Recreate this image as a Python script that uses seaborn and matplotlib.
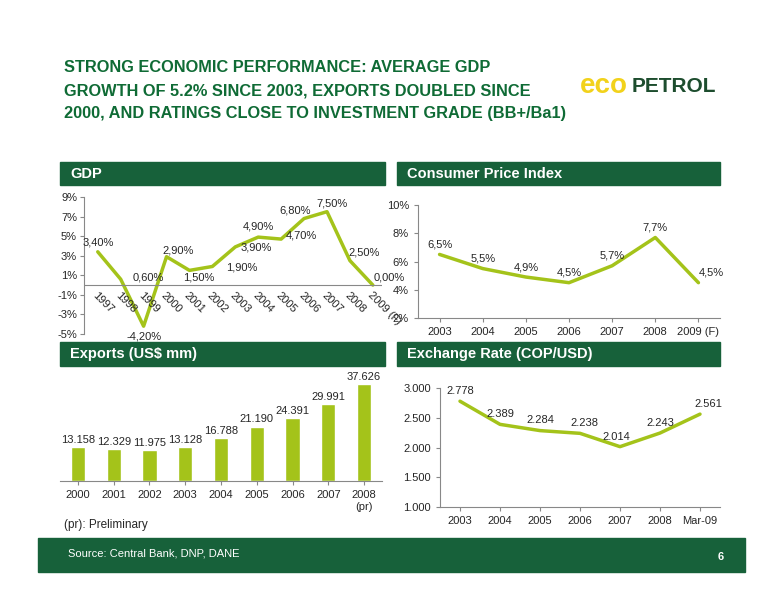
import matplotlib
matplotlib.use('Agg')
import matplotlib.pyplot as plt
import seaborn as sns
import pandas as pd

sns.set_style('white')
plt.rcParams['font.family'] = ['Liberation Sans', 'DejaVu Sans']

GREEN = '#a4c31a'
DARK = '#17613a'
TITLE = '#0f6b35'

# data
gdp_years = ['1997', '1998', '1999', '2000', '2001', '2002', '2003', '2004',
             '2005', '2006', '2007', '2008', '2009 (F)']
gdp_vals = [3.4, 0.6, -4.2, 2.9, 1.5, 1.9, 3.9, 4.9, 4.7, 6.8, 7.5, 2.5, 0.0]

cpi_years = ['2003', '2004', '2005', '2006', '2007', '2008', '2009 (F)']
cpi_vals = [6.5, 5.5, 4.9, 4.5, 5.7, 7.7, 4.5]

exp_years = ['2000', '2001', '2002', '2003', '2004', '2005', '2006', '2007', '2008\n(pr)']
exp_vals = [13158, 12329, 11975, 13128, 16788, 21190, 24391, 29991, 37626]

fx_labels = ['2003', '2004', '2005', '2006', '2007', '2008', 'Mar-09']
fx_vals = [2778, 2389, 2284, 2238, 2014, 2243, 2561]

W, H = 776, 600
fig = plt.figure(figsize=(W / 100, H / 100), dpi=100)


def px_ax(x0, y0, x1, y1):
    return fig.add_axes([x0 / W, 1 - y1 / H, (x1 - x0) / W, (y1 - y0) / H])


def bar(x0, y0, x1, y1, text=None, fs=10.5):
    fig.patches.append(plt.Rectangle((x0 / W, 1 - y1 / H), (x1 - x0) / W, (y1 - y0) / H,
                                     transform=fig.transFigure, color=DARK))
    if text:
        fig.text((x0 + 10) / W, 1 - (y0 + y1) / 2 / H, text, color='white',
                 fontsize=fs, fontweight='bold', va='center')


def pct(v, d=2):
    return f'{v:.{d}f}%'.replace('.', ',')


def thou(v):
    return f'{v:,}'.replace(',', '.')


# title
for i, line in enumerate(['STRONG ECONOMIC PERFORMANCE: AVERAGE GDP',
                          'GROWTH OF 5.2% SINCE 2003, EXPORTS DOUBLED SINCE',
                          '2000, AND RATINGS CLOSE TO INVESTMENT GRADE (BB+/Ba1)']):
    fig.text(64 / W, 1 - (68 + 23 * i) / H, line, color=TITLE, fontsize=11.8,
             fontweight='bold', va='center')
fig.text(580 / W, 1 - 86 / H, 'eco', color='#f2d21b', fontsize=20, fontweight='bold', va='center')
fig.text(632 / W, 1 - 87 / H, 'PETROL', color='#1d4d2e', fontsize=15, fontweight='bold', va='center')

bar(60, 162, 385, 185, 'GDP')
bar(397, 162, 720, 185, 'Consumer Price Index')
bar(60, 342, 385, 366, 'Exports (US$ mm)')
bar(397, 342, 720, 366, 'Exchange Rate (COP/USD)')
bar(38, 538, 745, 572)
fig.text(68 / W, 1 - 553 / H, 'Source: Central Bank, DNP, DANE', color='white', fontsize=8, va='center')
fig.text(718 / W, 1 - 557 / H, '6', color='white', fontsize=8, fontweight='bold', va='center')

# GDP
ax = px_ax(84, 197, 382, 334)
df = pd.DataFrame({'x': range(len(gdp_vals)), 'v': gdp_vals})
sns.lineplot(data=df, x='x', y='v', ax=ax, color=GREEN, lw=2.5)
ax.set_ylim(-5, 9)
ax.set_yticks(range(-5, 10, 2))
ax.set_yticklabels([f'{t}%' for t in range(-5, 10, 2)], fontsize=8)
ax.set_xlim(-0.6, 12.4)
ax.axhline(0, color='#888', lw=0.8)
ax.set_xticks([])
ax.set_xlabel(''); ax.set_ylabel('')
for i, y in enumerate(gdp_years):
    ax.text(i, -0.5, y, rotation=-45, ha='left', va='top', fontsize=8, rotation_mode='anchor')
offs = [(0, 0.9), (1.2, 0.2), (0, -1.1), (0.5, 0.6), (0.4, -0.7), (1.3, -0.1), (0.9, -0.1),
        (0, 1.1), (0.9, 0.4), (-0.4, 0.8), (0.2, 0.8), (0.6, 0.8), (0.7, 0.8)]
for i, (v, o) in enumerate(zip(gdp_vals, offs)):
    ax.text(i + o[0], v + o[1], pct(v), ha='center', va='center', fontsize=8)
sns.despine(ax=ax, bottom=True)
ax.spines['left'].set_color('#888')
ax.tick_params(axis='y', length=3, color='#888', pad=2, left=True)

# CPI
ax = px_ax(418, 205, 720, 318)
df = pd.DataFrame({'x': range(len(cpi_vals)), 'v': cpi_vals})
sns.lineplot(data=df, x='x', y='v', ax=ax, color=GREEN, lw=2.5)
ax.set_ylim(2, 10)
ax.set_yticks([2, 4, 6, 8, 10])
ax.set_yticklabels(['2%', '4%', '6%', '8%', '10%'], fontsize=8)
ax.set_xlim(-0.5, 6.5)
ax.set_xticks(range(len(cpi_years)))
ax.set_xticklabels(cpi_years, fontsize=8)
ax.set_xlabel(''); ax.set_ylabel('')
for i, v in enumerate(cpi_vals):
    ax.text(i + (0.3 if i == 6 else 0), v + 0.7, pct(v, 1), ha='center', va='center', fontsize=8)
for s in ['top', 'right']:
    ax.spines[s].set_visible(False)
ax.spines['left'].set_color('#888'); ax.spines['bottom'].set_color('#888')
ax.tick_params(length=3, color='#888', left=True, bottom=True)

# Exports
ax = px_ax(60, 368, 382, 481)
df = pd.DataFrame({'x': exp_years, 'v': exp_vals})
sns.barplot(data=df, x='x', y='v', ax=ax, color=GREEN, width=0.4, saturation=1)
ax.set_ylim(0, 44000)
ax.set_yticks([])
ax.set_xlabel(''); ax.set_ylabel('')
ax.tick_params(axis='x', labelsize=8, length=3, color='#888', bottom=True)
for i, v in enumerate(exp_vals):
    ax.text(i, v + 900, thou(v), ha='center', va='bottom', fontsize=8)
for s in ['top', 'right', 'left']:
    ax.spines[s].set_visible(False)
ax.spines['bottom'].set_color('#888')
fig.text(64 / W, 1 - 525 / H, '(pr): Preliminary', fontsize=8.5, va='center')

# Exchange rate
ax = px_ax(440, 388, 720, 507)
df = pd.DataFrame({'x': range(len(fx_vals)), 'v': fx_vals})
sns.lineplot(data=df, x='x', y='v', ax=ax, color=GREEN, lw=2.5)
ax.set_ylim(1000, 3000)
ax.set_yticks([1000, 1500, 2000, 2500, 3000])
ax.set_yticklabels([thou(t) for t in [1000, 1500, 2000, 2500, 3000]], fontsize=8)
ax.set_xlim(-0.5, 6.5)
ax.set_xticks(range(len(fx_labels)))
ax.set_xticklabels(fx_labels, fontsize=8)
ax.set_xlabel(''); ax.set_ylabel('')
fxoffs = [(0, 170), (0, 170), (0, 170), (0.1, 170), (-0.1, 170), (0, 170), (0.2, 170)]
for i, (v, o) in enumerate(zip(fx_vals, fxoffs)):
    ax.text(i + o[0], v + o[1], thou(v), ha='center', va='center', fontsize=8)
for s in ['top', 'right']:
    ax.spines[s].set_visible(False)
ax.spines['left'].set_color('#888'); ax.spines['bottom'].set_color('#888')
ax.tick_params(length=3, color='#888', left=True, bottom=True)

fig.savefig('out.png', dpi=100)
